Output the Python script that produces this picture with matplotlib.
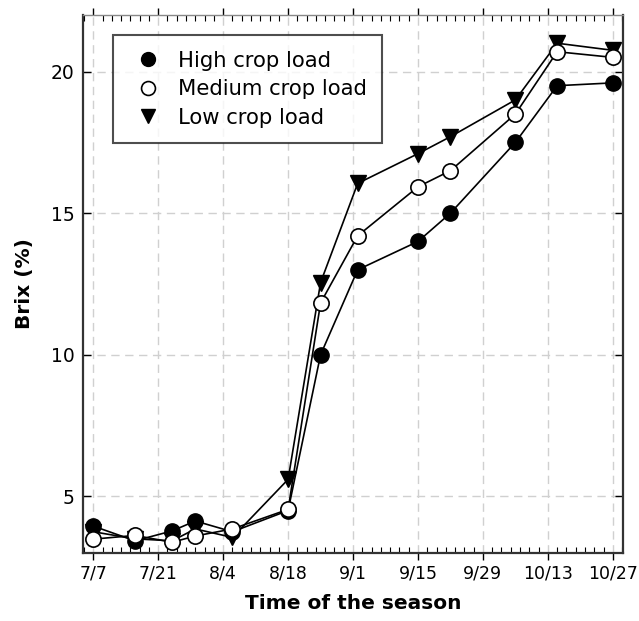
import matplotlib
matplotlib.use("Agg")
import matplotlib.pyplot as plt
from matplotlib.ticker import MultipleLocator, FixedLocator

plt.rcParams['font.family'] = ['DejaVu Sans']

# days after 7/7
days = [0, 9, 17, 22, 30, 42, 49, 57, 70, 77, 91, 100, 112]
high = [3.95, 3.43, 3.78, 4.13, 3.75, 4.5, 10.0, 13.0, 14.0, 15.0, 17.5, 19.5, 19.6]
medium = [3.49, 3.62, 3.38, 3.6, 3.85, 4.54, 11.83, 14.2, 15.93, 16.5, 18.5, 20.7, 20.5]
low = [3.75, 3.5, 3.43, 3.85, 3.55, 5.6, 12.55, 16.05, 17.1, 17.7, 19.0, 21.0, 20.75]

tick_days = [0, 14, 28, 42, 56, 70, 84, 98, 112]
tick_labels = ['7/7', '7/21', '8/4', '8/18', '9/1', '9/15', '9/29', '10/13', '10/27']
y_ticks = [5, 10, 15, 20]

fig = plt.figure(figsize=(6.39, 6.21), dpi=100)
ax = fig.add_axes([0.130, 0.1095, 0.845, 0.8665])

ax.grid(True, which='major', linestyle=(0, (6, 4)), color='#d0d0d0', linewidth=1.0)
ax.set_axisbelow(True)

ms = 11
ax.plot(days, high, '-', color='black', lw=1.2, marker='o', ms=ms,
        mfc='black', mec='black', label='High crop load', zorder=3)
ax.plot(days, low, '-', color='black', lw=1.2, marker='v', ms=ms,
        mfc='black', mec='black', label='Low crop load', zorder=4)
ax.plot(days, medium, '-', color='black', lw=1.2, marker='o', ms=ms,
        mfc='white', mec='black', mew=1.2, label='Medium crop load', zorder=5)

ax.set_xlim(-2.2, 114.2)
ax.set_ylim(3.0, 22.0)
ax.xaxis.set_major_locator(FixedLocator(tick_days))
ax.set_xticklabels(tick_labels)
ax.xaxis.set_minor_locator(MultipleLocator(2))
ax.set_yticks(y_ticks)

ax.tick_params(axis='x', which='major', direction='out', length=5, width=1, labelsize=12.5, top=True)
ax.tick_params(axis='x', which='minor', direction='in', length=4, width=0.8, top=True)
ax.tick_params(axis='y', which='major', direction='in', length=6, width=1, labelsize=13.5,
               right=True, pad=6)

for s in ['left', 'right', 'bottom']:
    ax.spines[s].set_linewidth(1.6)
    ax.spines[s].set_color('#333333')
ax.spines['top'].set_color('#888888')
ax.spines['top'].set_linewidth(1.0)

ax.set_xlabel('Time of the season', fontsize=14.5, fontweight='bold', labelpad=8)
ax.set_ylabel('Brix (%)', fontsize=14.5, fontweight='bold', labelpad=12)

handles, labels = ax.get_legend_handles_labels()
order = [0, 2, 1]
leg = ax.legend([handles[i] for i in order], [labels[i] for i in order],
                loc='upper left', bbox_to_anchor=(0.056, 0.963), fontsize=15.2,
                frameon=True, fancybox=False, edgecolor='#222222', handlelength=1.75,
                handletextpad=0.55, borderpad=0.75, labelspacing=0.4, borderaxespad=0)
leg.get_frame().set_linewidth(1.5)
for h in leg.legend_handles:
    h.set_linestyle('none')
    h.set_markersize(10)

fig.savefig('out.png', dpi=100)
